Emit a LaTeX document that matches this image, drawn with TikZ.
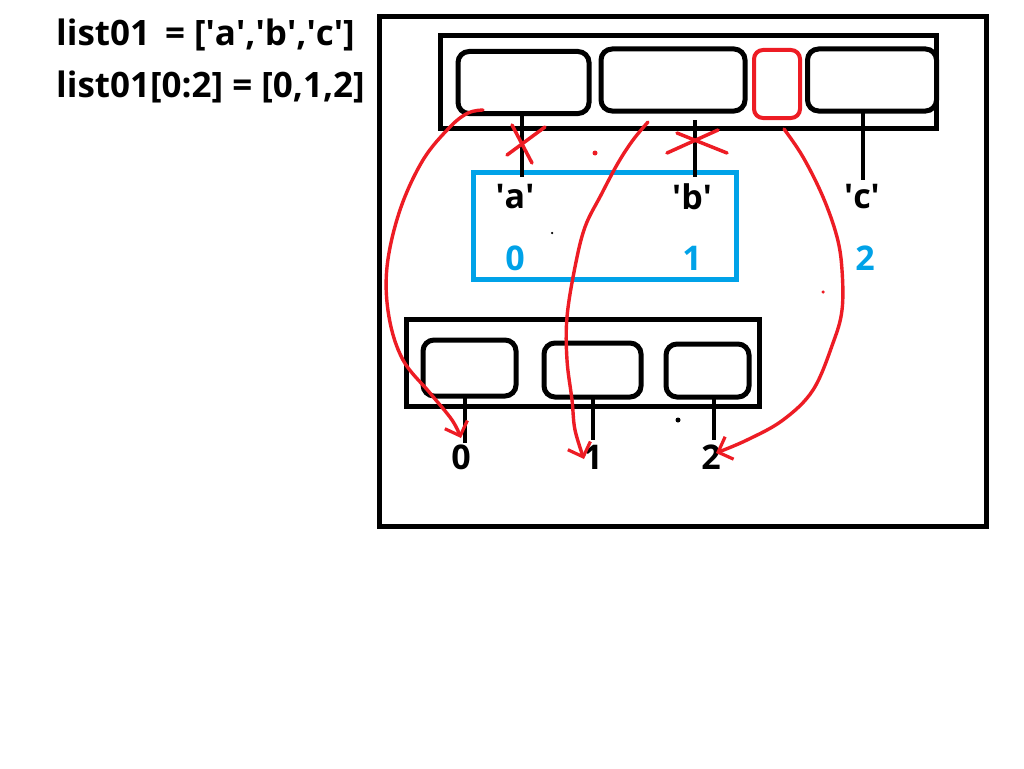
\documentclass[tikz,border=0pt]{standalone}
\usepackage{fontspec}
\setmainfont{Open Sans}
\usetikzlibrary{arrows.meta}
\definecolor{penred}{RGB}{237,28,36}
\definecolor{penblue}{RGB}{0,162,232}
\newcommand{\sq}{\textquotesingle}
\tikzset{
  frame/.style={draw=black,line width=5pt},
  cell/.style={draw=black,line width=5pt,rounded corners=11pt,inner sep=0pt},
  redcell/.style={draw=penred,line width=4pt,rounded corners=9pt,inner sep=0pt},
  blueframe/.style={draw=penblue,line width=5pt},
  link/.style={draw=black,line width=4.5pt},
  lbl/.style={inner sep=0pt,font=\fontsize{34}{34}\selectfont\bfseries},
  bluelbl/.style={lbl,text=penblue},
  code/.style={inner sep=0pt,anchor=west,font=\fontsize{35}{35}\selectfont\bfseries},
  cross/.style={draw=penred,line width=3.5pt,line cap=round},
  redpath/.style={draw=penred,line width=3.4pt,line cap=round,
    -{Straight Barb[length=12pt,width=24pt,line width=3.2pt]}},
  dotmark/.style={circle,fill=#1,inner sep=0pt,minimum size=5pt}
}
\begin{document}
\begin{tikzpicture}[x=1pt,y=-1pt]
\useasboundingbox[fill=white] (0,0) rectangle (1024,768);

% code text
\node[code] (c1) at (56,35) {list01 \,= [\sq a\sq,\sq b\sq,\sq c\sq]};
\node[code] (c2) at (56,87) {list01[0:2] = [0,1,2]};

% outer frame
\node[frame,minimum width=607pt,minimum height=509pt,inner sep=0pt] (outer) at (682.5,271.5) {};

% top list
\node[frame,minimum width=496pt,minimum height=92pt,inner sep=0pt] (toplist) at (688,82) {};
\node[cell,minimum width=131pt,minimum height=62pt] (t1) at (523.5,82.5) {};
\node[cell,minimum width=144pt,minimum height=62pt] (t2) at (673,80) {};
\node[redcell,minimum width=46pt,minimum height=68pt] (t3) at (777,84) {};
\node[cell,minimum width=129pt,minimum height=62pt] (t4) at (872,80) {};

% blue slice box
\node[blueframe,minimum width=263pt,minimum height=107pt,inner sep=0pt] (slice) at (605,226) {};

% labels
\node[lbl] (la) at (515,197) {\sq a\sq};
\node[lbl] (lb) at (692,197) {\sq b\sq};
\node[lbl] (lc) at (862,197) {\sq c\sq};
\node[bluelbl] (n0) at (515,258) {0};
\node[bluelbl] (n1) at (692,258) {1};
\node[bluelbl] (n2) at (865,258) {2};

% top links
\coordinate (a1) at (522,113);
\coordinate (a2) at (522,177);
\coordinate (b1) at (695,120);
\coordinate (b2) at (695,177);
\coordinate (cc1) at (863,113);
\coordinate (cc2) at (863,180);
\draw[link] (a1) -- (a2);
\draw[link] (b1) -- (b2);
\draw[link] (cc1) -- (cc2);

% crosses
\draw[cross] (507,155) -- (545,127);
\draw[cross] (512,125) -- (532,163);
\draw[cross] (677,133) -- (727,153);
\draw[cross] (667,153) -- (718,130);

% bottom list
\node[frame,minimum width=353pt,minimum height=87pt,inner sep=0pt] (botlist) at (583,362.5) {};
\node[cell,minimum width=93pt,minimum height=56pt] (u1) at (469.5,368) {};
\node[cell,minimum width=97pt,minimum height=54pt] (u2) at (592.5,370) {};
\node[cell,minimum width=83pt,minimum height=53pt] (u3) at (707.5,370.5) {};

\node[lbl] (m0) at (461,457) {0};
\node[lbl] (m1) at (593,457) {1};
\node[lbl] (m2) at (711,457) {2};

\coordinate (d1) at (465,395);
\coordinate (d2) at (465,443);
\coordinate (e1) at (593,396);
\coordinate (e2) at (593,440);
\coordinate (f1) at (714,396);
\coordinate (f2) at (714,440);
\draw[link] (d1) -- (d2);
\draw[link] (e1) -- (e2);
\draw[link] (f1) -- (f2);

% red arrows
\coordinate (r1) at (483,110);
\coordinate (r2) at (648,122);
\coordinate (r3) at (784,129);
\draw[redpath] plot[smooth,tension=0.6] coordinates {(r1) (468,113) (450,127) (423,160) (400,210) (387,267) (389,317) (403,360) (430,393) (452,420) (461,438)};
\draw[redpath] plot[smooth,tension=0.6] coordinates {(r2) (633,140) (618,163) (601,195) (585,227) (575,267) (567,317) (567,360) (572,400) (575,430) (584,459)};
\draw[redpath] plot[smooth,tension=0.6] coordinates {(r3) (803,157) (823,197) (837,237) (842,270) (842,310) (833,343) (813,390) (783,420) (747,440) (716,453)};

% stray marks
\node[dotmark=penred] (p1) at (595,153) {};
\node[dotmark=penred,minimum size=3.5pt] (p2) at (823,292) {};
\node[dotmark=black] (p3) at (678,420) {};
\node[dotmark=black,minimum size=2.5pt] (p4) at (552,233) {};
\end{tikzpicture}
\end{document}
